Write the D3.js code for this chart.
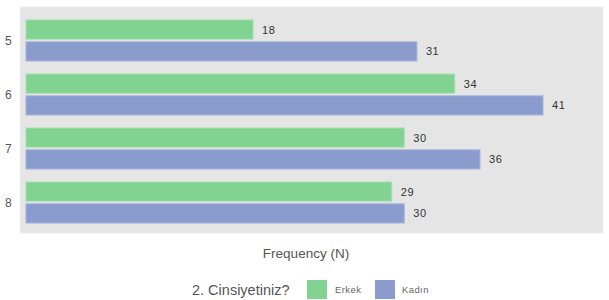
<!DOCTYPE html>
<html><head><meta charset="utf-8">
<script src="https://cdn.jsdelivr.net/npm/d3@7"></script>
<style>body{margin:0;background:#fff;} svg{display:block;font-family:"Liberation Sans",Arial,sans-serif;}</style>
</head><body>
<svg id="c" width="609" height="300"></svg>
<script>
const categories = ["5","6","7","8"];
const seriesNames = ["Erkek","Kadın"];
const erkek = [18,34,30,29];
const kadin = [31,41,36,30];
const colors = ["#82d391","#8a9bcd"];
const xTitle = "Frequency (N)";
const legendTitle = "2. Cinsiyetiniz?";

const svg = d3.select("#c");
const panel = {x0:20, x1:603, y0:7, y1:233};
svg.append("rect").attr("x",panel.x0).attr("y",panel.y0)
  .attr("width",panel.x1-panel.x0).attr("height",panel.y1-panel.y0)
  .attr("fill","#e5e5e5").attr("stroke","#efefef").attr("stroke-width",1);

const x = d3.scaleLinear().domain([0,41]).range([26,543]);
const y = d3.scaleBand().domain(categories).range([13.5,229.5]).paddingInner(0).paddingOuter(0);
const sub = d3.scaleBand().domain(seriesNames).range([y.bandwidth()/2-20.5, y.bandwidth()/2+20.5]).paddingInner(5/41);

const data = categories.map((c,i)=>({cat:c, vals:[{s:"Erkek",v:erkek[i]},{s:"Kadın",v:kadin[i]}]}));
const g = svg.append("g");
const grp = g.selectAll("g.grp").data(data).join("g").attr("transform",d=>`translate(0,${y(d.cat)})`);
grp.selectAll("rect").data(d=>d.vals).join("rect")
  .attr("x",x(0)).attr("y",d=>sub(d.s)).attr("height",sub.bandwidth())
  .attr("width",d=>x(d.v)-x(0))
  .attr("fill",(d,i)=>colors[i])
  .attr("stroke",(d,i)=>i===0?"#a3e0ab":"#a6b3db").attr("stroke-width",1);
grp.selectAll("text").data(d=>d.vals).join("text")
  .attr("x",d=>x(d.v)+9).attr("y",d=>sub(d.s)+sub.bandwidth()/2)
  .attr("dy","0.36em").attr("font-size",11).attr("fill","#333").attr("letter-spacing","0.6px")
  .text(d=>d.v);

// category axis labels
svg.selectAll("text.cat").data(categories).join("text").attr("class","cat")
  .attr("x",5).attr("y",d=>y(d)+y.bandwidth()/2).attr("dy","0.36em")
  .attr("font-size",12).attr("fill","#555").text(d=>d);

svg.append("text").attr("x",306).attr("y",253).attr("dy","0.36em")
  .attr("text-anchor","middle").attr("font-size",13.5).attr("fill","#555").text(xTitle);

// legend
const lg = svg.append("g");
lg.append("text").attr("x",192).attr("y",290).attr("dy","0.36em").attr("font-size",14.5).attr("fill","#555").text(legendTitle);
const items = [{n:seriesNames[0],c:colors[0],sx:307,tx:335},{n:seriesNames[1],c:colors[1],sx:375,tx:402}];
items.forEach(it=>{
  lg.append("rect").attr("x",it.sx).attr("y",280).attr("width",20).attr("height",19).attr("fill",it.c);
  lg.append("text").attr("x",it.tx).attr("y",290).attr("dy","0.36em").attr("font-size",9.5).attr("fill","#666").attr("letter-spacing","0.4px").text(it.n);
});
</script>
</body></html>
